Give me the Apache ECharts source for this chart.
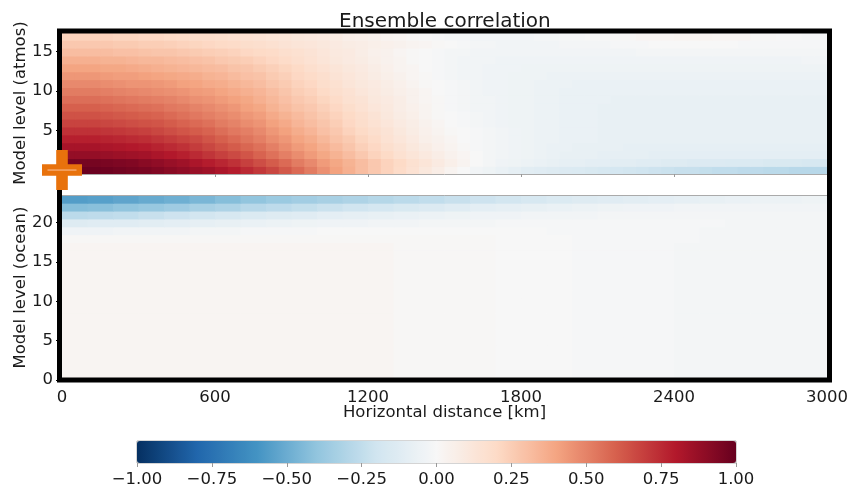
<!DOCTYPE html>
<html><head><meta charset="utf-8">
<script src="https://cdn.jsdelivr.net/npm/echarts@6/dist/echarts.min.js"></script>
<style>html,body{margin:0;padding:0;background:#fff}#c{width:851px;height:486px}</style>
</head><body><div id="c"></div>
<script>
// ---- data ----
const titleText = 'Ensemble correlation';
const xTicks = [0, 600, 1200, 1800, 2400, 3000];
const atmosTicks = [5, 10, 15];
const oceanTicks = [0, 5, 10, 15, 20];
const cbarTicks = [-1, -0.75, -0.5, -0.25, 0, 0.25, 0.5, 0.75, 1];
const rdbuR = ['#053061','#2166ac','#4393c3','#92c5de','#d1e5f0','#f7f7f7','#fddbc7','#f4a582','#d6604d','#b2182b','#67001f'];

// atmosphere columns (km, cell centres, 50 km wide)
const atmosX = [25,75,125,175,225,275,325,375,425,475,525,575,625,675,725,775,825,875,925,975,1025,1075,1125,1175,1225,1275,1325,1375,1425,1475,1525,1575,1625,1675,1725,1775,1825,1875,1925,1975,2025,2075,2125,2175,2225,2275,2325,2375,2425,2475,2525,2575,2625,2675,2725,2775,2825,2875,2925,2975];
// correlation x100, index = atmosphere model level 0..17
const atmosRows = [
[99,99,99,98,97,96,95,93,91,89,87,85,82,79,75,71,67,62,57,52,46,41,36,31,27,23,19,15,11,7,3,0,-3,-5,-7,-9,-11,-12,-13,-14,-15,-16,-17,-18,-19,-20,-21,-22,-23,-23,-24,-25,-25,-26,-26,-27,-27,-28,-28,-28],
[96,96,96,95,94,93,91,89,87,85,82,79,76,73,69,65,61,57,52,48,43,39,35,31,27,23,20,16,13,9,6,3,0,-2,-4,-5,-6,-7,-8,-9,-9,-10,-10,-11,-11,-12,-12,-13,-13,-14,-14,-14,-15,-15,-15,-16,-16,-16,-17,-17],
[88,88,88,87,86,85,84,82,80,78,75,72,69,66,63,59,55,51,47,43,39,35,31,27,23,20,16,13,10,7,4,2,0,-2,-3,-4,-5,-6,-7,-8,-8,-8,-9,-9,-9,-9,-10,-10,-10,-10,-10,-10,-10,-10,-10,-10,-10,-10,-10,-10],
[83,83,83,82,81,80,79,77,75,73,70,67,64,61,58,55,51,47,43,40,36,32,28,24,21,17,14,11,8,5,3,1,-1,-2,-3,-4,-5,-6,-7,-7,-8,-8,-8,-8,-9,-9,-9,-9,-9,-9,-9,-9,-9,-9,-9,-9,-9,-9,-9,-9],
[78,78,78,77,76,75,74,72,70,68,66,63,60,57,54,51,47,44,40,37,33,29,26,22,19,15,12,9,6,4,2,0,-1,-2,-3,-4,-5,-6,-6,-7,-7,-7,-8,-8,-8,-8,-8,-8,-8,-8,-8,-8,-8,-8,-8,-8,-8,-8,-8,-8],
[73,73,73,72,71,70,69,67,65,63,61,59,56,53,51,48,44,41,37,34,30,27,23,20,17,14,11,8,5,3,1,0,-1,-2,-3,-4,-5,-6,-6,-7,-7,-7,-8,-8,-8,-8,-8,-8,-8,-8,-8,-8,-8,-8,-8,-8,-8,-8,-8,-8],
[68,68,68,67,66,65,64,63,61,59,57,55,52,50,47,45,41,38,34,31,28,25,21,18,15,12,9,7,4,2,0,-1,-2,-3,-4,-5,-5,-6,-6,-7,-7,-7,-8,-8,-8,-8,-8,-8,-8,-8,-8,-8,-8,-8,-8,-8,-8,-8,-8,-8],
[64,64,64,63,62,61,60,59,57,55,53,51,49,47,44,42,38,35,32,29,26,23,20,17,14,11,8,6,3,1,0,-1,-2,-3,-4,-5,-5,-6,-6,-7,-7,-7,-8,-8,-8,-8,-8,-8,-8,-8,-8,-8,-8,-8,-8,-8,-8,-8,-8,-8],
[60,60,60,59,58,57,56,55,53,52,50,48,46,44,41,39,35,32,29,27,24,21,18,15,12,10,7,5,3,1,-1,-2,-3,-3,-4,-5,-5,-6,-6,-7,-7,-7,-8,-8,-8,-8,-8,-8,-8,-8,-8,-8,-8,-8,-8,-8,-8,-8,-8,-8],
[56,56,56,55,54,53,52,51,50,48,46,45,43,41,39,36,33,30,27,25,22,19,16,14,11,9,7,4,2,1,-1,-2,-3,-3,-4,-5,-5,-6,-6,-7,-7,-7,-7,-8,-8,-8,-8,-8,-8,-8,-8,-8,-8,-8,-8,-8,-8,-8,-8,-8],
[52,52,52,51,50,49,48,47,46,45,43,42,40,38,36,34,31,28,25,23,20,17,15,12,10,8,6,4,2,0,-1,-2,-3,-4,-4,-5,-5,-6,-6,-7,-7,-7,-7,-7,-7,-7,-7,-7,-7,-7,-7,-7,-7,-7,-7,-7,-7,-7,-7,-7],
[48,48,48,47,46,45,45,44,43,41,40,38,37,35,33,31,28,26,23,21,18,16,13,11,9,7,5,3,1,0,-1,-2,-3,-4,-4,-5,-5,-6,-6,-6,-7,-7,-7,-7,-7,-7,-7,-7,-7,-7,-7,-7,-7,-7,-7,-7,-7,-7,-7,-7],
[44,44,44,43,42,42,41,40,39,38,37,35,34,32,30,29,26,24,21,19,17,14,12,10,8,6,4,2,1,-1,-2,-3,-3,-4,-4,-5,-5,-5,-6,-6,-6,-6,-6,-6,-6,-6,-6,-6,-6,-6,-6,-6,-6,-6,-6,-6,-6,-6,-6,-6],
[40,40,40,39,39,38,37,36,35,34,33,32,31,29,28,26,24,22,20,17,15,13,11,9,7,5,3,2,0,-1,-2,-3,-3,-4,-4,-4,-5,-5,-5,-5,-5,-5,-5,-5,-5,-5,-5,-5,-5,-5,-5,-5,-5,-5,-5,-5,-5,-5,-5,-5],
[36,36,36,35,35,34,33,33,32,31,30,29,27,26,25,23,21,19,17,15,13,11,9,8,6,4,3,1,0,-1,-2,-3,-3,-3,-4,-4,-4,-4,-4,-4,-4,-4,-4,-4,-4,-4,-4,-4,-4,-4,-4,-4,-4,-4,-4,-4,-4,-4,-3,-3],
[31,31,31,31,30,30,29,28,28,27,26,25,24,23,21,20,19,17,16,14,12,10,9,7,5,4,2,1,0,-1,-2,-2,-3,-3,-3,-3,-3,-3,-3,-3,-3,-3,-3,-3,-3,-2,-2,-2,-2,-2,-2,-2,-2,-2,-2,-2,-2,-2,-2,-2],
[27,27,27,27,26,26,25,25,24,23,22,21,20,19,18,17,16,14,13,12,11,9,8,7,6,5,4,3,2,1,0,-1,-2,-2,-3,-3,-3,-3,-3,-2,-2,-2,-2,-1,-1,-1,0,0,0,0,0,0,0,-1,-1,-1,-1,-1,-1,-1],
[23,23,23,23,22,22,21,21,20,19,18,18,17,16,15,14,13,12,11,10,9,8,6,5,4,3,2,1,0,-1,-2,-2,-3,-3,-3,-3,-3,-2,-2,-1,-1,0,0,1,1,2,2,2,3,3,3,2,2,2,1,1,0,0,-1,-1]
];

// ocean columns (km, cell centres, 100 km wide)
const oceanX = [50,150,250,350,450,550,650,750,850,950,1050,1150,1250,1350,1450,1550,1650,1750,1850,1950,2050,2150,2250,2350,2450,2550,2650,2750,2850,2950];
// correlation x100, index = ocean model level 0..23
const oceanRows = [
[2,2,2,2,2,2,2,2,2,2,2,2,2,1,1,1,1,0,0,0,-1,-1,-1,-1,-2,-2,-2,-2,-2,-2],
[2,2,2,2,2,2,2,2,2,2,2,2,2,1,1,1,1,0,0,0,-1,-1,-1,-1,-2,-2,-2,-2,-2,-2],
[2,2,2,2,2,2,2,2,2,2,2,2,2,1,1,1,1,0,0,0,-1,-1,-1,-1,-2,-2,-2,-2,-2,-2],
[2,2,2,2,2,2,2,2,2,2,2,2,2,1,1,1,1,0,0,0,-1,-1,-1,-1,-2,-2,-2,-2,-2,-2],
[2,2,2,2,2,2,2,2,2,2,2,2,2,1,1,1,1,0,0,0,-1,-1,-1,-1,-2,-2,-2,-2,-2,-2],
[2,2,2,2,2,2,2,2,2,2,2,2,2,1,1,1,1,0,0,0,-1,-1,-1,-1,-2,-2,-2,-2,-2,-2],
[2,2,2,2,2,2,2,2,2,2,2,2,2,1,1,1,1,0,0,0,-1,-1,-1,-1,-2,-2,-2,-2,-2,-2],
[2,2,2,2,2,2,2,2,2,2,2,2,2,1,1,1,1,0,0,0,-1,-1,-1,-1,-2,-2,-2,-2,-2,-2],
[2,2,2,2,2,2,2,2,2,2,2,2,2,1,1,1,1,0,0,0,-1,-1,-1,-1,-2,-2,-2,-2,-2,-2],
[2,2,2,2,2,2,2,2,2,2,2,2,2,1,1,1,1,0,0,0,-1,-1,-1,-1,-2,-2,-2,-2,-2,-2],
[2,2,2,2,2,2,2,2,2,2,2,2,2,1,1,1,1,0,0,0,-1,-1,-1,-1,-2,-2,-2,-2,-2,-2],
[2,2,2,2,2,2,2,2,2,2,2,2,2,1,1,1,1,0,0,0,-1,-1,-1,-1,-2,-2,-2,-2,-2,-2],
[2,2,2,2,2,2,2,2,2,2,2,2,2,1,1,1,1,0,0,0,-1,-1,-1,-1,-2,-2,-2,-2,-2,-2],
[2,2,2,2,2,2,2,2,2,2,2,2,2,1,1,1,1,0,0,0,-1,-1,-1,-1,-2,-2,-2,-2,-2,-2],
[2,2,2,2,2,2,2,2,2,2,2,2,2,1,1,1,1,0,0,0,-1,-1,-1,-1,-2,-2,-2,-2,-2,-2],
[2,2,2,2,2,2,2,2,2,2,2,2,2,1,1,1,1,0,0,0,-1,-1,-1,-1,-2,-2,-2,-2,-2,-2],
[2,2,2,2,2,2,2,2,2,2,2,2,2,1,1,1,1,0,0,0,-1,-1,-1,-1,-2,-2,-2,-2,-2,-2],
[2,2,2,2,2,2,2,2,2,2,2,2,2,1,1,1,1,0,0,0,-1,-1,-1,-1,-2,-2,-2,-2,-2,-2],
[1,1,1,1,1,1,1,1,1,1,1,1,1,1,1,1,1,0,0,0,-1,-1,-1,-1,-1,-2,-2,-2,-2,-2],
[-4,-4,-3,-3,-3,-2,-2,-1,-1,-1,0,0,0,0,0,0,0,0,0,-1,-1,-1,-1,-1,-1,-2,-2,-2,-2,-2],
[-13,-12,-12,-11,-10,-9,-8,-7,-6,-5,-4,-4,-3,-3,-2,-2,-2,-1,-1,-1,-1,-1,-1,-1,-1,-1,-2,-2,-2,-2],
[-27,-26,-25,-23,-21,-19,-17,-15,-13,-12,-10,-9,-8,-7,-6,-5,-4,-4,-3,-3,-3,-2,-2,-2,-2,-2,-2,-2,-2,-2],
[-43,-42,-40,-38,-36,-33,-31,-28,-26,-24,-22,-20,-18,-16,-14,-12,-10,-9,-8,-7,-6,-5,-4,-4,-3,-3,-3,-3,-3,-3],
[-56,-55,-53,-51,-49,-46,-43,-40,-37,-35,-33,-31,-29,-27,-25,-23,-21,-19,-17,-15,-13,-12,-11,-10,-9,-8,-7,-6,-6,-5]
];

// observation location marker (km, level)
const obsPoint = [0, 0];

// ---- build ----
function toCells(xs, rows) {
  const out = [];
  rows.forEach((row, lev) => row.forEach((v, j) => out.push([xs[j], lev, v / 100])));
  return out;
}
function cellRenderer(halfW) {
  return function (params, api) {
    const x = api.value(0), y = api.value(1);
    const a = api.coord([x - halfW, y + 0.5]);
    const b = api.coord([x + halfW, y - 0.5]);
    const cs = params.coordSys;
    const r = echarts.graphic.clipRectByRect(
      { x: a[0], y: a[1], width: b[0] - a[0] + 0.8, height: b[1] - a[1] + 0.8 },
      { x: cs.x, y: cs.y, width: cs.width, height: cs.height });
    if (!r) return;
    return { type: 'rect', shape: r, style: { fill: api.visual('color') } };
  };
}
const FONT = 'DejaVu Sans';
const TXT = '#1a1a1a';
const FS = 16.5;
const chart = echarts.init(document.getElementById('c'), null, { renderer: 'canvas' });
const fmtCbar = v => (v < 0 ? '\u2212' : '') + Math.abs(v).toFixed(2);

chart.setOption({
  animation: false,
  textStyle: { fontFamily: FONT },
  title: { text: titleText, left: 334, top: 7,
    textStyle: { fontFamily: FONT, fontSize: 20, fontWeight: 'normal', color: TXT } },
  grid: [
    { left: 62, width: 765, top: 32, height: 142, outerBoundsMode: 'none' },
    { left: 62, width: 765, top: 195, height: 185, outerBoundsMode: 'none' },
    { left: 137, width: 599, top: 441, height: 22, outerBoundsMode: 'none', show: true, borderColor: '#aaa', borderWidth: 1, backgroundColor: 'transparent' }
  ],
  xAxis: [
    { gridIndex: 0, type: 'value', min: xTicks[0], max: xTicks[xTicks.length - 1], interval: 600, z: 5,
      axisLine: { show: true, onZero: false, lineStyle: { color: '#aaa', width: 1 } },
      axisTick: { show: true, length: 3, lineStyle: { color: '#999' } },
      axisLabel: { show: false }, splitLine: { show: false } },
    { gridIndex: 1, type: 'value', min: xTicks[0], max: xTicks[xTicks.length - 1], interval: 600,
      axisLine: { show: false, onZero: false }, axisTick: { show: false },
      axisLabel: { fontSize: FS, color: TXT, margin: 9, fontFamily: FONT, formatter: v => String(v) },
      splitLine: { show: false },
      name: 'Horizontal distance [km]', nameLocation: 'middle', nameGap: 24, nameMoveOverlap: false,
      nameTextStyle: { fontSize: FS, color: TXT, fontFamily: FONT } },
    { gridIndex: 1, type: 'value', position: 'top', min: 0, max: 3000, z: 5,
      axisLine: { show: true, onZero: false, lineStyle: { color: '#aaa', width: 1 } },
      axisTick: { show: false }, axisLabel: { show: false }, splitLine: { show: false } },
    { gridIndex: 2, type: 'value', min: -1, max: 1, interval: 0.25,
      axisLine: { show: false, onZero: false },
      axisTick: { show: true, length: 4, lineStyle: { color: '#999' } },
      axisLabel: { fontSize: FS, color: TXT, margin: 8, fontFamily: FONT, formatter: fmtCbar },
      splitLine: { show: false } }
  ],
  yAxis: [
    { gridIndex: 0, type: 'value', min: -0.5, max: 17.5,
      axisLine: { show: false, onZero: false },
      axisTick: { show: true, length: 6, customValues: atmosTicks, lineStyle: { color: '#000' } },
      axisLabel: { fontSize: FS, color: TXT, margin: 9, customValues: atmosTicks, fontFamily: FONT },
      splitLine: { show: false },
      name: 'Model level (atmos)', nameLocation: 'middle', nameGap: 33, nameMoveOverlap: false,
      nameTextStyle: { fontSize: FS, color: TXT, fontFamily: FONT } },
    { gridIndex: 1, type: 'value', min: 0, max: 23.5,
      axisLine: { show: false, onZero: false },
      axisTick: { show: true, length: 6, customValues: oceanTicks, lineStyle: { color: '#000' } },
      axisLabel: { fontSize: FS, color: TXT, margin: 9, customValues: oceanTicks, fontFamily: FONT },
      splitLine: { show: false },
      name: 'Model level (ocean)', nameLocation: 'middle', nameGap: 33, nameMoveOverlap: false,
      nameTextStyle: { fontSize: FS, color: TXT, fontFamily: FONT } },
    { gridIndex: 2, type: 'value', min: 0, max: 1, show: false }
  ],
  visualMap: {
    type: 'continuous', min: -1, max: 1, seriesIndex: [0, 1], dimension: 2,
    orient: 'horizontal', left: 137, top: 441, itemWidth: 22, itemHeight: 599,
    padding: 0, calculable: false, hoverLink: false, formatter: () => '',
    inRange: { color: rdbuR }
  },
  graphic: [
    { type: 'rect', z: 8, silent: true,
      shape: { x: 59.5, y: 31, width: 770, height: 349 },
      style: { fill: 'rgba(0,0,0,0)', stroke: '#000', lineWidth: 5 } }
  ],
  series: [
    { type: 'custom', name: 'atmos', xAxisIndex: 0, yAxisIndex: 0, dimensions: ['x', 'y', 'v'],
      encode: { x: 0, y: 1 }, renderItem: cellRenderer(25), data: toCells(atmosX, atmosRows), silent: true },
    { type: 'custom', name: 'ocean', xAxisIndex: 1, yAxisIndex: 1, dimensions: ['x', 'y', 'v'],
      encode: { x: 0, y: 1 }, renderItem: cellRenderer(50), data: toCells(oceanX, oceanRows), silent: true },
    { type: 'scatter', xAxisIndex: 0, yAxisIndex: 0, data: [obsPoint], clip: false, z: 10, silent: true,
      symbol: 'path://M0.355,0H0.645V0.355H1V0.645H0.645V1H0.355V0.645H0V0.355H0.355Z',
      symbolSize: 40, itemStyle: { color: '#e8720c', opacity: 1 } },
    { type: 'scatter', xAxisIndex: 0, yAxisIndex: 0, data: [obsPoint], clip: false, z: 11, silent: true,
      symbol: 'rect', symbolSize: [29, 1.5], itemStyle: { color: '#f4a86e', opacity: 1 } }
  ]
});
</script>
</body></html>
